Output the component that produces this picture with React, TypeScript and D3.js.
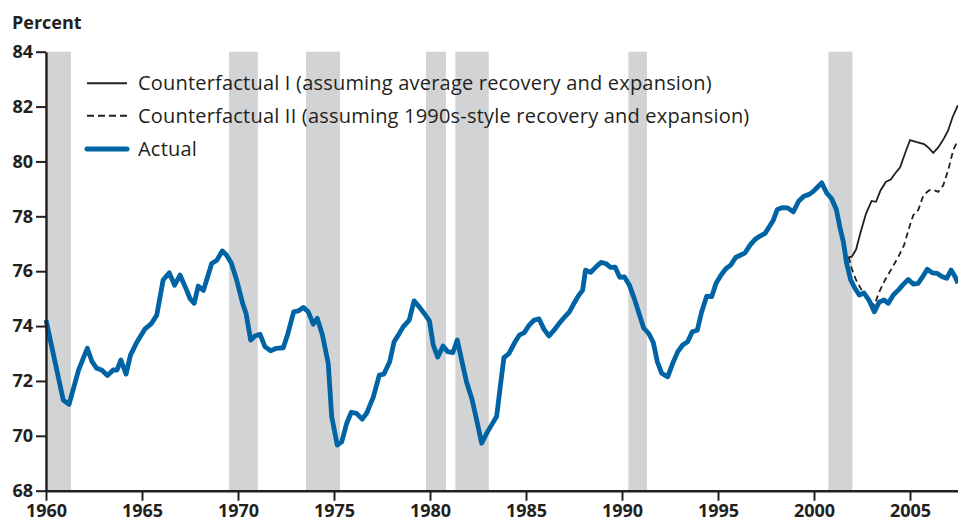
import React, { useEffect, useRef } from "react";
import * as d3 from "d3";

// [year, percent]
const actual: [number, number][] = [
  [1960.0, 74.22], [1960.9, 71.3], [1961.2, 71.15], [1961.7, 72.4], [1962.15, 73.19],
  [1962.4, 72.7], [1962.64, 72.46], [1962.9, 72.4], [1963.2, 72.2], [1963.5, 72.4],
  [1963.7, 72.4], [1963.9, 72.76], [1964.17, 72.25], [1964.4, 72.94], [1964.7, 73.37],
  [1965.16, 73.9], [1965.5, 74.1], [1965.77, 74.4], [1966.1, 75.68], [1966.42, 75.94],
  [1966.7, 75.49], [1966.98, 75.86], [1967.33, 75.3], [1967.5, 75.0], [1967.72, 74.83],
  [1967.93, 75.46], [1968.2, 75.3], [1968.63, 76.28], [1968.9, 76.4], [1969.18, 76.74],
  [1969.4, 76.59], [1969.65, 76.3], [1969.93, 75.68], [1970.24, 74.83], [1970.42, 74.46],
  [1970.66, 73.49], [1970.89, 73.64], [1971.15, 73.7], [1971.4, 73.25], [1971.7, 73.1],
  [1972.0, 73.19], [1972.36, 73.21], [1972.6, 73.73], [1972.9, 74.52], [1973.14, 74.55],
  [1973.4, 74.68], [1973.66, 74.52], [1973.92, 74.07], [1974.13, 74.28], [1974.4, 73.67],
  [1974.7, 72.64], [1974.88, 70.7], [1975.17, 69.66], [1975.4, 69.78], [1975.66, 70.45],
  [1975.9, 70.86], [1976.17, 70.82], [1976.47, 70.61], [1976.7, 70.82], [1977.05, 71.42],
  [1977.36, 72.21], [1977.6, 72.25], [1977.9, 72.7], [1978.13, 73.43], [1978.35, 73.67],
  [1978.6, 73.97], [1978.92, 74.22], [1979.17, 74.92], [1979.44, 74.7], [1979.7, 74.46],
  [1979.97, 74.19], [1980.17, 73.31], [1980.4, 72.87], [1980.68, 73.27], [1980.92, 73.07],
  [1981.19, 73.03], [1981.42, 73.49], [1981.7, 72.6], [1981.9, 71.97], [1982.18, 71.35],
  [1982.43, 70.58], [1982.69, 69.73], [1982.95, 70.09], [1983.2, 70.39], [1983.47, 70.7],
  [1983.68, 71.91], [1983.85, 72.85], [1984.11, 73.0], [1984.39, 73.37], [1984.65, 73.67],
  [1984.91, 73.76], [1985.17, 74.04], [1985.43, 74.22], [1985.68, 74.26], [1985.94, 73.88],
  [1986.2, 73.64], [1986.46, 73.85], [1986.73, 74.1], [1987.0, 74.32], [1987.26, 74.52],
  [1987.5, 74.83], [1987.72, 75.09], [1987.95, 75.31], [1988.1, 76.04], [1988.37, 75.96],
  [1988.65, 76.16], [1988.9, 76.32], [1989.15, 76.28], [1989.41, 76.14], [1989.64, 76.15],
  [1989.88, 75.78], [1990.13, 75.79], [1990.38, 75.5], [1990.64, 75.0], [1990.9, 74.43],
  [1991.13, 73.93], [1991.4, 73.72], [1991.63, 73.4], [1991.84, 72.7], [1992.07, 72.28],
  [1992.38, 72.15], [1992.64, 72.64], [1992.9, 73.06], [1993.16, 73.31], [1993.42, 73.43],
  [1993.66, 73.79], [1993.92, 73.85], [1994.15, 74.52], [1994.41, 75.09], [1994.67, 75.07],
  [1994.9, 75.56], [1995.16, 75.86], [1995.42, 76.1], [1995.66, 76.22], [1995.92, 76.5],
  [1996.18, 76.59], [1996.41, 76.67], [1996.67, 76.95], [1996.93, 77.16], [1997.19, 77.28],
  [1997.45, 77.38], [1997.67, 77.62], [1997.88, 77.86], [1998.09, 78.25], [1998.37, 78.32],
  [1998.63, 78.31], [1998.92, 78.16], [1999.2, 78.55], [1999.47, 78.73], [1999.75, 78.8],
  [1999.95, 78.9], [2000.15, 79.04], [2000.4, 79.22], [2000.66, 78.85], [2000.92, 78.64],
  [2001.16, 78.26], [2001.35, 77.6], [2001.53, 77.07], [2001.7, 76.28], [2001.91, 75.68],
  [2002.14, 75.37], [2002.36, 75.13], [2002.6, 75.21], [2002.86, 74.95], [2003.14, 74.52],
  [2003.4, 74.88], [2003.65, 74.95], [2003.87, 74.83], [2004.13, 75.13], [2004.39, 75.31],
  [2004.65, 75.52], [2004.91, 75.7], [2005.17, 75.53], [2005.43, 75.56], [2005.66, 75.8],
  [2005.9, 76.07], [2006.16, 75.94], [2006.42, 75.92], [2006.68, 75.8], [2006.91, 75.74],
  [2007.14, 76.04], [2007.35, 75.8], [2007.5, 75.56],
];

const counterfactual1: [number, number][] = [
  [2001.8, 76.52], [2001.96, 76.52], [2002.19, 76.79], [2002.43, 77.43], [2002.71, 78.1],
  [2003.0, 78.56], [2003.23, 78.53], [2003.47, 78.95], [2003.75, 79.26], [2004.0, 79.34],
  [2004.22, 79.56], [2004.48, 79.78], [2004.74, 80.29], [2005.0, 80.78], [2005.31, 80.71],
  [2005.73, 80.63], [2005.95, 80.51], [2006.21, 80.31], [2006.47, 80.51], [2006.77, 80.84],
  [2006.99, 81.14], [2007.22, 81.62], [2007.5, 82.05],
];

const counterfactual2: [number, number][] = [
  [2001.8, 76.52], [2001.96, 76.1], [2002.19, 75.68], [2002.48, 75.31], [2002.77, 75.0],
  [2003.14, 74.76], [2003.4, 75.25], [2003.7, 75.68], [2004.05, 76.1], [2004.39, 76.52],
  [2004.69, 76.95], [2004.97, 77.62], [2005.17, 78.04], [2005.43, 78.23], [2005.7, 78.77],
  [2006.0, 78.95], [2006.25, 78.95], [2006.47, 78.89], [2006.73, 79.13], [2006.99, 79.68],
  [2007.25, 80.41], [2007.5, 80.78],
];

const recessions: [number, number][] = [
  [1960.1, 1961.3], [1969.53, 1971.03], [1973.54, 1975.31], [1979.79, 1980.83],
  [1981.32, 1983.06], [1990.33, 1991.3], [2000.75, 2002.0],
];

const xTicks = [1960, 1965, 1970, 1975, 1980, 1985, 1990, 1995, 2000, 2005];
const yTicks = [68, 70, 72, 74, 76, 78, 80, 82, 84];

const legendItems = [
  { label: "Counterfactual I (assuming average recovery and expansion)", kind: "solid" },
  { label: "Counterfactual II (assuming 1990s-style recovery and expansion)", kind: "dashed" },
  { label: "Actual", kind: "actual" },
];

const W = 958;
const H = 523;
const BLUE = "#0064a4";
const INK = "#231f20";
const FONT = "'Open Sans', Lato, sans-serif";

export default function App() {
  const ref = useRef<SVGSVGElement | null>(null);

  useEffect(() => {
    if (!ref.current) return;
    const svg = d3.select(ref.current);
    svg.selectAll("*").remove();

    const x = d3.scaleLinear().domain([1960, 2007.5]).range([46, 958]);
    const y = d3.scaleLinear().domain([68, 84]).range([490.7, 51.7]);

    // recession shading
    svg
      .append("g")
      .selectAll("rect")
      .data(recessions)
      .join("rect")
      .attr("x", (d) => x(d[0]))
      .attr("width", (d) => x(d[1]) - x(d[0]))
      .attr("y", y(84))
      .attr("height", y(68) - y(84))
      .attr("fill", "#d1d3d4");

    const line = d3
      .line<[number, number]>()
      .x((d) => x(d[0]))
      .y((d) => y(d[1]));

    svg
      .append("path")
      .datum(counterfactual1)
      .attr("d", line)
      .attr("fill", "none")
      .attr("stroke", INK)
      .attr("stroke-width", 1.8);

    svg
      .append("path")
      .datum(counterfactual2)
      .attr("d", line)
      .attr("fill", "none")
      .attr("stroke", INK)
      .attr("stroke-width", 1.8)
      .attr("stroke-dasharray", "6,4");

    svg
      .append("path")
      .datum(actual)
      .attr("d", line)
      .attr("fill", "none")
      .attr("stroke", BLUE)
      .attr("stroke-width", 4.8)
      .attr("stroke-linejoin", "round");

    // axes
    const yAxis = svg
      .append("g")
      .attr("transform", `translate(${x(1960)},0)`)
      .call(d3.axisLeft(y).tickValues(yTicks).tickSize(10).tickSizeOuter(0).tickPadding(3));
    const xAxis = svg
      .append("g")
      .attr("transform", `translate(0,${y(68)})`)
      .call(
        d3
          .axisBottom(x)
          .tickValues(xTicks)
          .tickFormat(d3.format("d"))
          .tickSize(10)
          .tickSizeOuter(0)
          .tickPadding(3.5)
      );

    [yAxis, xAxis].forEach((g) => {
      g.select(".domain").attr("stroke", INK).attr("stroke-width", 2.5);
      g.selectAll(".tick line").attr("stroke", INK).attr("stroke-width", 2);
      g.selectAll(".tick text")
        .attr("fill", INK)
        .style("font-family", FONT)
        .style("font-size", "18px")
        .style("font-weight", "700");
    });

    svg
      .append("text")
      .attr("x", 12)
      .attr("y", 29)
      .attr("fill", INK)
      .style("font-family", FONT)
      .style("font-size", "18px")
      .style("font-weight", "700")
      .text("Percent");

    // legend
    const rowY = [83.3, 115.7, 149];
    const lg = svg.append("g");
    legendItems.forEach((item, i) => {
      const ln = lg
        .append("line")
        .attr("x1", 87)
        .attr("x2", 127)
        .attr("y1", rowY[i])
        .attr("y2", rowY[i]);
      if (item.kind === "actual") {
        ln.attr("stroke", BLUE).attr("stroke-width", 5).attr("stroke-linecap", "round");
      } else {
        ln.attr("stroke", INK).attr("stroke-width", 2);
        if (item.kind === "dashed") ln.attr("stroke-dasharray", "7,4");
      }
      lg.append("text")
        .attr("x", 138)
        .attr("y", rowY[i] + 7)
        .attr("fill", INK)
        .style("font-family", FONT)
        .style("font-size", "20px")
        .style("letter-spacing", "0.2px")
        .text(item.label);
    });
  }, []);

  return (
    <div style={{ position: "absolute", left: 0, top: 0 }}>
      <svg ref={ref} width={W} height={H} style={{ display: "block", background: "#fff" }} />
    </div>
  );
}
